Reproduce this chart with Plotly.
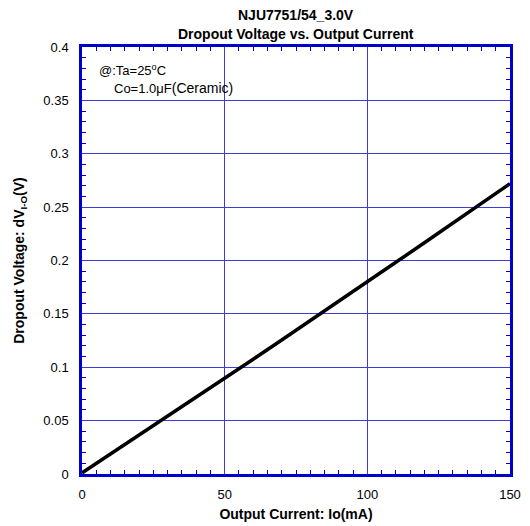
import plotly.graph_objects as go

current_mA = [0, 10, 20, 30, 40, 50, 60, 70, 80, 90, 100, 110, 120, 130, 140, 150]
dropout_V = [0.001, 0.0186, 0.0362, 0.0538, 0.0716, 0.0895, 0.1075, 0.1255, 0.1435,
             0.1617, 0.180, 0.1983, 0.2166, 0.235, 0.2535, 0.272]

title_lines = ["NJU7751/54_3.0V", "Dropout Voltage vs. Output Current"]

BLUE = "#0000cc"
GRID = "#3c3cd8"
FONT = "Liberation Sans, Arial, sans-serif"

fig = go.Figure()
fig.add_trace(go.Scatter(x=current_mA, y=dropout_V, mode="lines",
                         line=dict(color="black", width=3.5), showlegend=False))

fig.update_layout(
    width=530, height=526,
    margin=dict(l=82, r=20, t=47, b=52),
    paper_bgcolor="white", plot_bgcolor="white",
    font=dict(family=FONT, size=12, color="black"),
    xaxis=dict(range=[0, 150], dtick=50, showgrid=True, gridcolor=GRID, gridwidth=1,
               showline=True, linecolor=BLUE, linewidth=2.5, mirror="ticks",
               ticks="inside", ticklen=0, zeroline=False, automargin=False,
               minor=dict(dtick=5, ticks="inside", ticklen=4, tickcolor=BLUE, showgrid=False),
               title=dict(text="<b>Output Current: Io(mA)</b>", font=dict(size=14), standoff=8),
               tickfont=dict(size=13), ticklabelstandoff=7),
    yaxis=dict(range=[0, 0.4], dtick=0.05, showgrid=True, gridcolor=GRID, gridwidth=1,
               showline=True, linecolor=BLUE, linewidth=2.5, mirror="ticks",
               ticks="inside", ticklen=0, zeroline=False, tickformat="~g", automargin=False,
               minor=dict(dtick=0.01, ticks="inside", ticklen=4, tickcolor=BLUE, showgrid=False),
               title=dict(text="<b>Dropout Voltage: dV<sub>I-O</sub>(V)</b>", font=dict(size=14), standoff=16),
               tickfont=dict(size=13), ticklabelstandoff=8),
    annotations=[
        dict(text=f"<b>{title_lines[0]}</b>", x=0.5, y=1.075, xref="paper", yref="paper",
             xanchor="center", yanchor="middle", showarrow=False, font=dict(size=14)),
        dict(text=f"<b>{title_lines[1]}</b>", x=0.5, y=1.030, xref="paper", yref="paper",
             xanchor="center", yanchor="middle", showarrow=False, font=dict(size=14)),
        dict(text="@:Ta=25<sup>o</sup>C", x=0.036, y=0.946, xref="paper", yref="paper",
             xanchor="left", yanchor="middle", showarrow=False, font=dict(size=13)),
        dict(text="Co=1.0μF<span style='font-size:14px'>(Ceramic)</span>", x=0.069, y=0.904,
             xref="paper", yref="paper", xanchor="left", yanchor="middle",
             showarrow=False, font=dict(size=13)),
    ],
)

fig.write_html("out.html")
